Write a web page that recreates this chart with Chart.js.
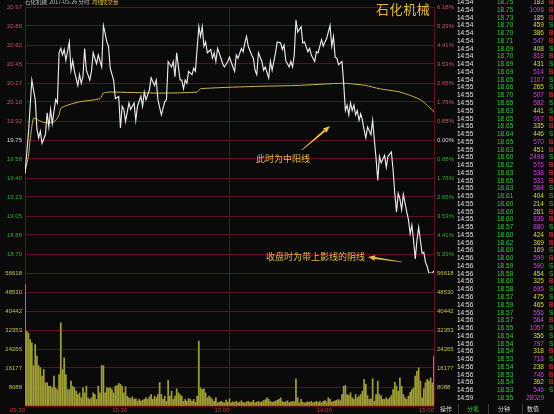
<!DOCTYPE html>
<html><head><meta charset="utf-8">
<script src="https://cdn.jsdelivr.net/npm/chart.js@4/dist/chart.umd.min.js"></script>
<style>
html,body{margin:0;padding:0;background:#0a0a0a;width:554px;height:414px;overflow:hidden;}
#wrap{position:relative;width:554px;height:414px;background:#0a0a0a;}
canvas{position:absolute;left:0;}
#pc{top:0;}
#vc{top:265px;}
.t{position:absolute;white-space:nowrap;}
.cjk{font-family:"Noto Sans CJK SC",sans-serif;}
.row{position:absolute;left:0;width:554px;height:7.76px;line-height:7.76px;font-size:6.5px;font-family:"Liberation Sans","DejaVu Sans",sans-serif;}
.row span{position:absolute;top:0;}
svg{position:absolute;left:0;top:0;}
</style></head>
<body><div id="wrap">
<canvas id="vc" width="460" height="149"></canvas>
<canvas id="pc" width="460" height="280"></canvas>
<div id="hdr"></div>
<div class="t cjk" style="left:376px;top:1px;font-size:13px;line-height:16px;color:#e6b83e;letter-spacing:0.6px;">石化机械</div>
<div class="t cjk" style="left:256px;top:153px;font-size:9px;line-height:12px;color:#e6bc48;">此时为中阳线</div>
<div class="t cjk" style="left:266px;top:251px;font-size:9px;line-height:12px;color:#e6bc48;">收盘时为带上影线的阴线</div>
<svg id="arrows" width="554" height="414"></svg>
<div id="table"></div>
<div id="btns"></div>
</div>
<script>
// ---------------- data ----------------
const priceTickLabels = ['20.97','20.80','20.62','20.45','20.27','20.10','19.92','19.75','19.58','19.40','19.23','19.05','18.88','18.70','18.53'];
const pctTickLabels = ['6.18%','5.29%','4.41%','3.53%','2.65%','1.76%','0.88%','0.00%','0.88%','1.76%','2.65%','3.53%','4.41%','5.29%','6.18%'];
const volTickLabels = ['56618','48530','40442','32353','24265','16177','8088','0'];
const timeLabels = ['09:30','10:30','13:00','14:00','15:00'];
const timeTickMinutes = [0,60,120,180,240];
const prevClose = 19.75;

const priceMinutes = [0,2,4,6,7,8,9,10,12,13,14,15,16,18,19,20,21,22,23,24,26,27,28,29,31,32,33,34,35,36,38,39,40,42,43,45,46,47,48,49,50,52,53,55,56,57,58,59,61,62,64,65,66,68,69,70,71,73,74,76,77,78,80,82,83,84,86,87,88,89,91,92,93,94,95,96,98,99,100,102,103,104,105,106,107,109,110,111,112,113,115,116,117,119,120,122,123,124,125,127,128,129,130,131,133,134,135,136,137,139,140,141,143,144,145,147,148,150,151,152,153,155,156,157,158,159,160,162,163,164,166,167,168,170,171,172,174,175,176,177,179,180,181,182,183,184,186,187,188,189,190,191,192,193,194,195,196,197,198,199,200,201,203,204,205,206,207,208,209,211,212,213,215,216,217,218,219,220,221,222,223,224,225,226,227,228,229,230,231,232,233,234,235,236,237,239,240];
const prices = [19.44,19.81,20.30,20.12,19.85,19.77,19.83,19.72,19.80,20.00,19.87,20.03,19.90,20.12,20.09,20.55,20.59,20.53,20.58,20.48,20.65,20.39,20.48,20.38,20.25,20.35,20.27,20.33,20.59,20.39,20.30,20.38,20.55,20.45,20.53,20.42,20.80,20.73,20.65,20.61,20.41,20.30,20.13,20.15,19.86,20.06,20.03,19.92,20.09,20.03,20.09,19.93,20.06,20.15,20.06,20.19,20.12,20.21,20.32,20.25,20.30,20.12,19.98,20.10,20.12,20.47,20.42,20.47,20.33,20.55,20.30,20.30,20.22,20.30,20.27,20.38,20.35,20.41,20.38,20.79,20.70,20.79,20.61,20.65,20.55,20.58,20.50,20.55,20.47,20.59,20.50,20.45,20.42,20.47,20.51,20.42,20.38,20.53,20.50,20.59,20.56,20.64,20.70,20.61,20.53,20.50,20.39,20.35,20.55,20.47,20.39,20.42,20.32,20.47,20.39,20.55,20.65,20.64,20.58,20.62,20.48,20.42,20.47,20.42,20.53,20.85,20.74,20.79,20.64,20.65,20.56,20.59,20.53,20.47,20.56,20.55,20.67,20.61,20.65,20.68,20.80,20.61,20.70,20.51,20.50,20.44,20.47,20.27,20.02,20.07,19.98,20.09,20.02,20.07,19.98,20.02,19.93,19.99,19.93,19.84,19.77,19.87,19.80,19.93,19.75,19.58,19.38,19.60,19.54,19.61,19.50,19.60,19.64,19.47,19.26,19.09,19.26,19.21,19.11,19.25,19.17,19.09,19.02,18.89,18.97,18.83,18.66,18.83,18.95,18.83,18.71,18.72,18.63,18.59,18.53,18.53,18.55];

const avgMinutes = [0,2,3,5,8,11,16,18,20,21,25,32,44,46,50,79,101,103,132,159,187,200,208,220,232,240];
const avgPrices  = [19.46,19.60,19.75,19.95,19.93,19.91,19.91,19.93,19.98,20.04,20.07,20.10,20.13,20.18,20.19,20.18,20.19,20.22,20.24,20.25,20.27,20.25,20.22,20.19,20.12,20.01];

const volumes = [51700,31800,31100,28300,26900,17200,26200,21200,17200,16300,
12700,15500,9900,9900,8400,8400,7700,12700,7700,7000,
13400,35400,15500,20500,13400,7000,7000,10600,8400,7700,
6300,4900,5600,3500,7700,5600,8400,3500,2800,3500,
5600,4900,2800,8400,5600,17200,17200,5600,7700,7700,
7700,7000,5600,8400,8700,9600,9200,8400,5600,8200,
4200,3500,3100,3900,2800,3100,2100,2800,2100,2500,
2800,3500,2800,3900,4900,2800,4200,3500,4900,10000,
4900,2800,4200,2000,11000,4200,6300,2800,4200,7300,
5600,4900,4200,2000,2800,2000,3200,2800,2000,2800,
1600,4200,27600,7700,7000,7300,5600,3500,4200,3500,
2800,2000,3500,1350,1600,2000,1600,1350,2500,1600,
3000,1350,1800,1500,2000,1400,1700,2200,1500,1300,
1800,2000,1500,1600,2400,1400,1700,1900,1500,1800,
2300,2600,3500,2800,2000,1600,1800,2100,2400,2800,
3500,2000,1600,1800,2200,1500,1700,2000,1800,11600,
3500,1300,2800,1600,1300,1500,1800,1600,2000,1400,
1600,2000,1500,1900,1400,2000,2300,1800,3500,2800,
1600,2000,2200,2500,2800,2300,4900,8400,8700,4900,
4500,5600,3500,2800,4900,3500,4200,4900,6300,11300,
9200,4500,2800,3000,11600,2000,4900,10600,4900,4200,
2800,2800,3500,2800,3500,4500,7000,10100,8400,6300,
12000,8400,4900,3500,2800,4200,5900,7000,7700,12700,
14800,16200,10600,3500,7300,9900,11300,10600,12000,9900,
21000];

const tradeTimes = ['14:54','14:54','14:54','14:54','14:54','14:54','14:54','14:54','14:54','14:54','14:54',
'14:55','14:55','14:55','14:55','14:55','14:55','14:55','14:55','14:55','14:55','14:55','14:55','14:55','14:55','14:55','14:55','14:55','14:55','14:55','14:55',
'14:56','14:56','14:56','14:56','14:56','14:56','14:56','14:56','14:56','14:56','14:56','14:56','14:56','14:56','14:56','14:56','14:56','14:56','14:56','14:56',
'14:59'];
const tradePrices = ['18.75','18.75','18.73','18.70','18.70','18.71','18.69','18.70','18.69','18.69','18.65',
'18.66','18.70','18.65','18.63','18.65','18.65','18.64','18.65','18.63','18.60','18.62','18.63','18.65','18.63','18.61','18.60','18.60','18.60','18.57','18.60',
'18.62','18.60','18.60','18.59','18.58','18.60','18.58','18.57','18.59','18.57','18.57','18.55','18.54','18.54','18.54','18.53','18.54','18.53','18.54','18.53',
'18.55'];
const tradeVols = [183,1096,185,459,386,547,408,818,431,514,1107,
265,507,582,441,917,335,446,570,451,2498,576,538,531,584,404,214,281,836,880,424,
369,169,599,590,454,325,695,475,465,556,564,1057,356,797,318,718,238,746,362,546,
28029];
const tradeFlags = ['B','B','B','S','B','B','S','B','S','B','S',
'S','B','S','S','B','B','S','B','B','S','B','B','B','S','S','S','B','B','S','B',
'B','S','B','S','S','B','S','S','B','S','B','S','S','S','B','S','B','B','B','S',
''];

const headerParts = [['石化机械','#bdbdbd',25],['2017-05-26 分时','#bdbdbd',49],['均线','#d8c040',92],['成交量','#e0a838',102]];
const buttonLabels = [['操作','#d8d8d8',440],['分笔','#30c030',467],['分钟','#d8d8d8',498],['数值','#d8d8d8',527]];

// ---------------- styles ----------------
const GRID = 'rgb(96,16,34)';
const UPC = '#c85464', DNC = '#34a834', FLC = '#d8d8d8';
Chart.defaults.font.family = '"Liberation Sans","DejaVu Sans",sans-serif';
Chart.defaults.font.size = 6;

const PMAX = 20.97, PMIN = 18.53, VMAX = 56618;
const fixWidth = w => s => { s.width = w; };
const evenTicks = (min, max, n) => s => { const t = []; for (let k = 0; k <= n; k++) t.push({value: min + (max - min) * k / n}); s.ticks = t; };
const nP = priceTickLabels.length - 1;
const sideColor = i => { const r = nP - i; return r < 7 ? UPC : (r === 7 ? FLC : DNC); };

new Chart(document.getElementById('pc'), {
  type: 'line',
  data: { datasets: [
    { data: priceMinutes.map((m, i) => ({x: m, y: prices[i]})), borderColor: '#eaeaea', borderWidth: 1.15, pointRadius: 0, tension: 0 },
    { data: avgMinutes.map((m, i) => ({x: m, y: avgPrices[i]})), borderColor: '#cbb64c', borderWidth: 1, pointRadius: 0, tension: 0.2 }
  ]},
  options: {
    responsive: false, animation: false, devicePixelRatio: 1,
    layout: { padding: { top: 7, bottom: 7, left: 0, right: 0 } },
    plugins: { legend: { display: false }, tooltip: { enabled: false } },
    scales: {
      x: { type: 'linear', min: 0, max: 240,
           afterBuildTicks: s => { s.ticks = [0, 120, 240].map(v => ({value: v})); },
           afterFit: s => { s.height = 0; },
           ticks: { display: false }, grid: { color: GRID, drawTicks: false }, border: { display: false } },
      y: { position: 'left', min: PMIN, max: PMAX,
           afterBuildTicks: evenTicks(PMIN, PMAX, nP), afterFit: fixWidth(25),
           ticks: { padding: 3, color: c => sideColor(c.index), callback: (v, i) => i === 0 ? '' : priceTickLabels[nP - i] },
           grid: { color: GRID, drawTicks: false }, border: { color: GRID } },
      yr: { position: 'right', min: PMIN, max: PMAX,
           afterBuildTicks: evenTicks(PMIN, PMAX, nP), afterFit: fixWidth(26),
           ticks: { padding: 3, color: c => sideColor(c.index), callback: (v, i) => i === 0 ? '' : pctTickLabels[nP - i] },
           grid: { display: false, drawTicks: false }, border: { color: GRID } }
    }
  }
});

const nV = volTickLabels.length - 1;
new Chart(document.getElementById('vc'), {
  type: 'bar',
  data: { datasets: [
    { data: volumes.map((v, i) => ({x: i, y: v})), backgroundColor: '#9e9c36', borderWidth: 0, barThickness: 1.1 }
  ]},
  options: {
    responsive: false, animation: false, devicePixelRatio: 1,
    layout: { padding: { top: 8, bottom: 0, left: 0, right: 0 } },
    plugins: { legend: { display: false }, tooltip: { enabled: false } },
    scales: {
      x: { type: 'linear', min: 0, max: 240, offset: false,
           afterBuildTicks: s => { s.ticks = timeTickMinutes.map(v => ({value: v})); },
           afterFit: s => { s.height = 8; },
           ticks: { align: 'end', padding: 1, color: '#c83434', autoSkip: false, maxRotation: 0, callback: (v, i) => timeLabels[i] },
           grid: { offset: false, drawTicks: false, color: c => (c.tick && c.tick.value % 120 === 0) ? GRID : 'rgba(0,0,0,0)' },
           border: { display: false } },
      y: { position: 'left', min: 0, max: VMAX,
           afterBuildTicks: evenTicks(0, VMAX, nV), afterFit: fixWidth(25),
           ticks: { padding: 3, color: '#c4c040', callback: (v, i) => i === 0 ? '' : volTickLabels[nV - i] },
           grid: { color: GRID, drawTicks: false }, border: { color: GRID } },
      yr: { position: 'right', min: 0, max: VMAX,
           afterBuildTicks: evenTicks(0, VMAX, nV), afterFit: fixWidth(26),
           ticks: { padding: 3, color: '#c4c040', callback: (v, i) => i === 0 ? '' : volTickLabels[nV - i] },
           grid: { display: false, drawTicks: false }, border: { color: GRID } }
    }
  }
});

// ---------------- header ----------------
const hdr = document.getElementById('hdr');
headerParts.forEach(([txt, col, x]) => {
  const d = document.createElement('div');
  d.className = 't cjk'; d.textContent = txt;
  d.style.cssText = `left:${x}px;top:-1px;font-size:5.5px;line-height:7px;color:${col};`;
  hdr.appendChild(d);
});

// ---------------- arrows ----------------
function arrow(tx, ty, hx, hy) {
  const dx = hx - tx, dy = hy - ty, L = Math.hypot(dx, dy);
  const ux = dx / L, uy = dy / L, nx = -uy, ny = ux;
  const bx = hx - 7 * ux, by = hy - 7 * uy;
  const p = (x, y) => x.toFixed(2) + ',' + y.toFixed(2);
  const shaft = [p(tx + 0.35 * nx, ty + 0.35 * ny), p(bx + 1.1 * nx, by + 1.1 * ny), p(bx - 1.1 * nx, by - 1.1 * ny), p(tx - 0.35 * nx, ty - 0.35 * ny)].join(' ');
  const head = [p(hx, hy), p(bx + 2.8 * nx, by + 2.8 * ny), p(bx - 2.8 * nx, by - 2.8 * ny)].join(' ');
  return `<polygon points="${shaft}" fill="#e6bc48"/><polygon points="${head}" fill="#e6bc48"/>`;
}
document.getElementById('arrows').innerHTML = arrow(302, 150, 330, 126) + arrow(402, 262, 368, 257);

// ---------------- trade table ----------------
const tbl = document.getElementById('table');
tradeTimes.forEach((tm, k) => {
  const r = document.createElement('div');
  r.className = 'row';
  r.style.top = (-1.9 + 7.76 * k) + 'px';
  const v = tradeVols[k];
  const vc = v >= 500 ? '#cc44dd' : '#d8d840';
  const fc = tradeFlags[k] === 'B' ? '#ff3a3a' : '#30c830';
  r.innerHTML = `<span style="left:457px;color:#e2e2e2">${tm}</span>` +
    `<span style="left:497px;color:#2ccc2c">${tradePrices[k]}</span>` +
    `<span style="left:515px;width:29px;text-align:right;color:${vc}">${v}</span>` +
    `<span style="left:549px;color:${fc}">${tradeFlags[k]}</span>`;
  tbl.appendChild(r);
});

// ---------------- bottom buttons ----------------
const btns = document.getElementById('btns');
buttonLabels.forEach(([txt, col, x]) => {
  const d = document.createElement('div');
  d.className = 't cjk'; d.textContent = txt;
  d.style.cssText = `left:${x}px;top:404px;font-size:6px;line-height:10px;color:${col};`;
  btns.appendChild(d);
});
[458, 488, 522].forEach(x => {
  const d = document.createElement('div');
  d.className = 't';
  d.style.cssText = `left:${x}px;top:404px;width:1px;height:10px;background:#3a3a3a;`;
  btns.appendChild(d);
});
</script>
</body></html>
